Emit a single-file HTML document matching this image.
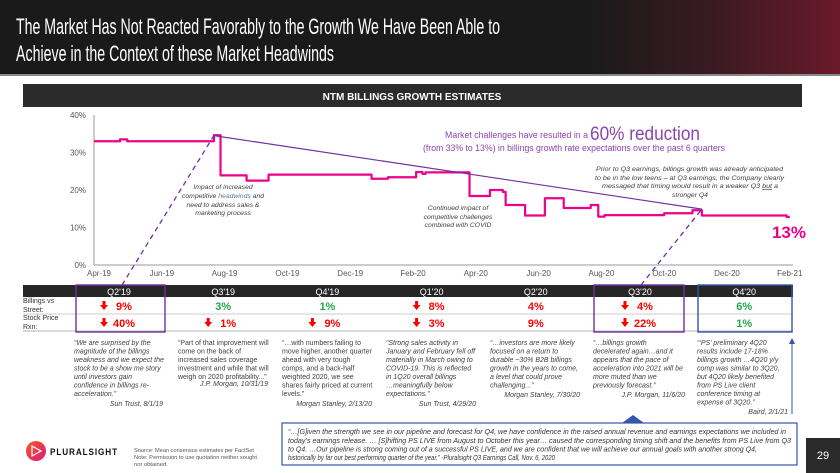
<!DOCTYPE html>
<html><head><meta charset="utf-8"><style>
html,body{margin:0;padding:0;background:#fff}
svg{display:block;font-family:"Liberation Sans",Arial,sans-serif}
</style></head><body>
<svg id="s" width="840" height="473" viewBox="0 0 840 473" xmlns="http://www.w3.org/2000/svg">
<defs>
<linearGradient id="tg" x1="0" x2="1" y1="0" y2="0"><stop offset="0" stop-color="#1a1a1a"/><stop offset="0.7" stop-color="#1a1a1a"/><stop offset="0.85" stop-color="#3a1a22"/><stop offset="1" stop-color="#6a1a2a"/></linearGradient>
<linearGradient id="lg" x1="0" x2="1" y1="0" y2="1"><stop offset="0" stop-color="#f15a24"/><stop offset="1" stop-color="#e0197d"/></linearGradient>
</defs>
<g>
<rect x="0" y="0" width="840" height="74" fill="url(#tg)"/>
<rect x="0" y="74" width="840" height="2" fill="#888"/>
<text x="16" y="34" fill="#fff" font-size="22" textLength="484" lengthAdjust="spacingAndGlyphs">The Market Has Not Reacted Favorably to the Growth We Have Been Able to</text>
<text x="16" y="61" fill="#fff" font-size="22" textLength="318" lengthAdjust="spacingAndGlyphs">Achieve in the Context of these Market Headwinds</text>
</g>
<g>
<rect x="23" y="84" width="779" height="23" fill="#2b2b2b"/>
<text x="412" y="100" fill="#fff" font-size="10" font-weight="bold" text-anchor="middle">NTM BILLINGS GROWTH ESTIMATES</text>
</g>
<g id="chart"></g>
<g font-style="italic" font-size="6.8" fill="#404040">
<text x="445" y="138" font-style="normal" font-size="9" fill="#8e44ad" textLength="143" lengthAdjust="spacingAndGlyphs">Market challenges have resulted in a</text>
<text x="590" y="140" font-style="normal" font-size="19" fill="#8e44ad" textLength="110" lengthAdjust="spacingAndGlyphs">60% reduction</text>
<text x="423" y="151" font-style="normal" font-size="9" fill="#8e44ad" textLength="302" lengthAdjust="spacingAndGlyphs">(from 33% to 13%) in billings growth rate expectations over the past 6 quarters</text>
<g text-anchor="middle">
<text x="223" y="189">Impact of increased</text>
<text x="223" y="198">competitive <tspan fill="#5a7a9a">headwinds</tspan> and</text>
<text x="223" y="207">need to address sales &amp;</text>
<text x="223" y="215">marketing process</text>
<text x="458" y="210">Continued impact of</text>
<text x="458" y="219">competitive challenges</text>
<text x="458" y="227">combined with COVID</text>
</g>
<text x="596" y="171" textLength="187" lengthAdjust="spacingAndGlyphs">Prior to Q3 earnings, billings growth was already anticipated</text>
<text x="595" y="180" textLength="189" lengthAdjust="spacingAndGlyphs">to be in the low teens – at Q3 earnings, the Company clearly</text>
<text x="602" y="188" textLength="176" lengthAdjust="spacingAndGlyphs">messaged that timing would result in a weaker Q3 <tspan text-decoration="underline">but</tspan> a</text>
<text x="690" y="197" text-anchor="middle">stronger Q4</text>
<text x="806" y="238" font-style="normal" font-weight="bold" font-size="17" fill="#ec008c" text-anchor="end">13%</text>
</g>
<g id="table">
<rect x="23" y="285" width="770" height="12" fill="#262626"/>
<line x1="23" y1="314" x2="793" y2="314" stroke="#bbb" stroke-width="0.8"/>
<line x1="23" y1="331" x2="793" y2="331" stroke="#999" stroke-width="0.8"/>
<text x="23" y="303" font-size="7" fill="#333">Billings vs</text>
<text x="23" y="312" font-size="7" fill="#333">Street:</text>
<text x="23" y="320" font-size="7" fill="#333">Stock Price</text>
<text x="23" y="329" font-size="7" fill="#333">Rxn:</text>
</g>
<g font-size="7" fill="#404040" font-style="italic">
<text x="74" y="345"><tspan x="74">“We are surprised by the</tspan><tspan x="74" dy="8.5">magnitude of the billings</tspan><tspan x="74" dy="8.5">weakness and we expect the</tspan><tspan x="74" dy="8.5">stock to be a show me story</tspan><tspan x="74" dy="8.5">until investors gain</tspan><tspan x="74" dy="8.5">confidence in billings re-</tspan><tspan x="74" dy="8.5">acceleration.”</tspan></text>
<text x="163" y="406" text-anchor="end">Sun Trust, 8/1/19</text>
<g font-style="normal"><text x="178" y="345"><tspan x="178">“Part of that improvement will</tspan><tspan x="178" dy="8.5">come on the back of</tspan><tspan x="178" dy="8.5">increased sales coverage</tspan><tspan x="178" dy="8.5">investment and while that will</tspan><tspan x="178" dy="8.5">weigh on 2020 profitability...”</tspan></text>
<text x="268" y="386" text-anchor="end" font-style="italic">J.P. Morgan, 10/31/19</text>
<text x="282" y="345"><tspan x="282">“…with numbers failing to</tspan><tspan x="282" dy="8.5">move higher, another quarter</tspan><tspan x="282" dy="8.5">ahead with very tough</tspan><tspan x="282" dy="8.5">comps, and a back-half</tspan><tspan x="282" dy="8.5">weighted 2020, we see</tspan><tspan x="282" dy="8.5">shares fairly priced at current</tspan><tspan x="282" dy="8.5">levels.”</tspan></text>
<text x="372" y="406" text-anchor="end" font-style="italic">Morgan Stanley, 2/13/20</text></g>
<text x="386" y="345"><tspan x="386">“Strong sales activity in</tspan><tspan x="386" dy="8.5">January and February fell off</tspan><tspan x="386" dy="8.5">materially in March owing to</tspan><tspan x="386" dy="8.5">COVID-19. This is reflected</tspan><tspan x="386" dy="8.5">in 1Q20 overall billings</tspan><tspan x="386" dy="8.5">…meaningfully below</tspan><tspan x="386" dy="8.5">expectations.”</tspan></text>
<text x="476" y="406" text-anchor="end">Sun Trust, 4/29/20</text>
<text x="490" y="345"><tspan x="490">“…investors are more likely</tspan><tspan x="490" dy="8.5">focused on a return to</tspan><tspan x="490" dy="8.5">durable ~30% B2B billings</tspan><tspan x="490" dy="8.5">growth in the years to come,</tspan><tspan x="490" dy="8.5">a level that could prove</tspan><tspan x="490" dy="8.5">challenging...”</tspan></text>
<text x="580" y="397" text-anchor="end">Morgan Stanley, 7/30/20</text>
<text x="593" y="345"><tspan x="593">“…billings growth</tspan><tspan x="593" dy="8.5">decelerated again…and it</tspan><tspan x="593" dy="8.5">appears that the pace of</tspan><tspan x="593" dy="8.5">acceleration into 2021 will be</tspan><tspan x="593" dy="8.5">more muted than we</tspan><tspan x="593" dy="8.5">previously forecast.”</tspan></text>
<text x="685" y="397" text-anchor="end">J.P. Morgan, 11/6/20</text>
<text x="697" y="345"><tspan x="697">“‘PS’ preliminary 4Q20</tspan><tspan x="697" dy="8.5">results include 17-18%</tspan><tspan x="697" dy="8.5">billings growth …4Q20 y/y</tspan><tspan x="697" dy="8.5">comp was similar to 3Q20,</tspan><tspan x="697" dy="8.5">but 4Q20 likely benefited</tspan><tspan x="697" dy="8.5">from PS Live client</tspan><tspan x="697" dy="8.5">conference timing at</tspan><tspan x="697" dy="8.5">expense of 3Q20.”</tspan></text>
<text x="788" y="414" text-anchor="end">Baird, 2/1/21</text>
</g>
<g>
<line x1="792" y1="414" x2="792" y2="342" stroke="#3355aa" stroke-width="1"/>
<polygon points="789,344 795,344 792,338" fill="#3355aa"/>
</g>
<g>
<polygon points="622,423 644,423 633,415" fill="#3355aa"/>
<rect x="282" y="423" width="515" height="42" fill="#fff" stroke="#3355aa" stroke-width="1.2"/>
<g font-size="7" font-style="italic" fill="#333">
<text x="288" y="434" textLength="498" lengthAdjust="spacingAndGlyphs">“…[G]iven the strength we see in our pipeline and forecast for Q4, we have confidence in the raised annual revenue and earnings expectations we included in</text>
<text x="288" y="443" textLength="503" lengthAdjust="spacingAndGlyphs">today’s earnings release. … [S]hifting PS LIVE from August to October this year… caused the corresponding timing shift and the benefits from PS Live from Q3</text>
<text x="288" y="451.5" textLength="469" lengthAdjust="spacingAndGlyphs">to Q4. …Our pipeline is strong coming out of a successful PS LIVE, and we are confident that we will achieve our annual goals with another strong Q4,</text>
<text x="288" y="460" textLength="267" lengthAdjust="spacingAndGlyphs">historically by far our best performing quarter of the year.”        -Pluralsight Q3 Earnings Call, Nov. 6, 2020</text>
</g>
</g>
<g>
<circle cx="36" cy="451" r="10" fill="url(#lg)"/>
<polygon points="32,446 32,456 41,451" fill="none" stroke="#fff" stroke-width="1.2"/>
<text x="50" y="455" font-size="9" font-weight="bold" fill="#111" letter-spacing="1" textLength="68" lengthAdjust="spacingAndGlyphs">PLURALSIGHT</text>
</g>
<g font-size="5.8" fill="#555">
<text x="134" y="452" textLength="120" lengthAdjust="spacingAndGlyphs">Source: Mean consensus estimates per FactSet</text>
<text x="134" y="459" textLength="123" lengthAdjust="spacingAndGlyphs">Note: Permission to use quotation neither sought</text>
<text x="134" y="466">nor obtained.</text>
</g>
<g>
<rect x="806" y="438" width="34" height="35" fill="#2b2b2b"/>
<text x="823" y="459" font-size="11" fill="#fff" text-anchor="middle">29</text>
</g>
</svg>
<script>
// chart data
var months = [0, 0.67, 0.9, 3.66, 3.87, 4.7, 5.4, 8.68, 9.2, 10.1, 10.3, 10.4, 11.8, 12.45, 12.86, 12.95, 13.57, 14.2, 14.8, 15.66, 15.9, 16.1, 18.0, 18.9, 19.2, 21.9, 22];
var billingsGrowth = [33.0, 33.5, 33.0, 34.6, 23.9, 22.5, 24.1, 23.0, 23.4, 24.8, 24.3, 24.7, 18.4, 20.0, 19.5, 16.0, 13.2, 17.8, 15.2, 16.0, 12.9, 13.3, 13.8, 14.6, 13.2, 12.8, 12.8];
var yTicks = [0, 10, 20, 30, 40];
var xTickLabels = ["Apr-19","Jun-19","Aug-19","Oct-19","Dec-19","Feb-20","Apr-20","Jun-20","Aug-20","Oct-20","Dec-20","Feb-21"];
var xTickMonths = [0,2,4,6,8,10,12,14,16,18,20,22];
var trendStart = [3.66, 34.5];
var trendEnd = [19.2, 14.9];
// table data
var quarters = ["Q2'19","Q3'19","Q4'19","Q1'20","Q2'20","Q3'20","Q4'20"];
var billingsVsStreet = ["9%","3%","1%","8%","4%","4%","6%"];
var billingsDown = [true,false,false,true,false,true,false];
var billingsColor = ["r","g","g","r","r","r","g"];
var stockRxn = ["40%","1%","9%","3%","9%","22%","1%"];
var stockDown = [true,true,true,true,false,true,false];
var stockColor = ["r","r","r","r","r","r","g"];

var NS="http://www.w3.org/2000/svg";
function x(m){return 99+m*31.4;}
function y(v){return 265-v*3.75;}
function mk(tag,attrs,parent,txt){var e=document.createElementNS(NS,tag);for(var k in attrs)e.setAttribute(k,attrs[k]);if(txt!=null)e.textContent=txt;parent.appendChild(e);return e;}
var g=document.getElementById('chart');
var ax=mk('line',{x1:94,y1:115,x2:94,y2:265,stroke:'#999','stroke-width':1},g);


var bx=mk('line',{x1:94,y1:265,x2:793,y2:265,stroke:'#999','stroke-width':1},g);


yTicks.forEach(function(t){
  var e=mk('text',{x:86,y:y(t)+3,'font-size':8,fill:'#555','text-anchor':'end'},g,t+'%');
  
  
});
xTickLabels.forEach(function(l,i){
  var e=mk('text',{x:x(xTickMonths[i]),y:276,'font-size':8,fill:'#555','text-anchor':'middle'},g,l);
  
  
});
var d='M'+(x(months[0])-5)+','+y(billingsGrowth[0]);
for(var i=0;i<months.length;i++){
  if(i>0)d+=' L'+x(months[i])+','+y(billingsGrowth[i-1]);
  d+=' L'+x(months[i])+','+y(billingsGrowth[i]);
}
var ln=mk('path',{d:d,fill:'none',stroke:'#ec008c','stroke-width':2.2,'stroke-linejoin':'round'},g);


var tr=mk('line',{x1:x(trendStart[0]),y1:y(trendStart[1]),x2:x(trendEnd[0]),y2:y(trendEnd[1]),stroke:'#7030a0','stroke-width':1.2},g);


var d1=mk('line',{x1:122,y1:285,x2:x(trendStart[0]),y2:y(trendStart[1]),stroke:'#7030a0','stroke-width':1.3,'stroke-dasharray':'5,4'},g);


var d2=mk('line',{x1:641,y1:285,x2:x(trendEnd[0]),y2:y(trendEnd[1]),stroke:'#7030a0','stroke-width':1.3,'stroke-dasharray':'5,4'},g);



var tb=document.getElementById('table');
function col(i){return 119+i*104.2;}
function cell(val,down,c,cy,i){
  var colr=c==='r'?'#ff0000':'#22a84a';
  var t=mk('text',{x:col(i)+(down?5:0),y:cy,'font-size':11,'font-weight':'bold',fill:colr,'text-anchor':'middle'},tb,val);
  
  
  if(down){
    var ax0=col(i)-15, ay=cy-9;
    var a=mk('polygon',{points:(ax0-1.5)+','+ay+' '+(ax0+1.5)+','+ay+' '+(ax0+1.5)+','+(ay+4)+' '+(ax0+4)+','+(ay+4)+' '+ax0+','+(ay+9)+' '+(ax0-4)+','+(ay+4)+' '+(ax0-1.5)+','+(ay+4),fill:'#ff0000'},tb);
    
    
  }
}
quarters.forEach(function(q,i){
  var h=mk('text',{x:col(i),y:295,'font-size':9,fill:'#fff','text-anchor':'middle'},tb,q);
  
  
  cell(billingsVsStreet[i],billingsDown[i],billingsColor[i],310,i);
  cell(stockRxn[i],stockDown[i],stockColor[i],327,i);
});
var b1=mk('rect',{x:76,y:285,width:89,height:47,fill:'none',stroke:'#7030a0','stroke-width':1.4},tb);


var b2=mk('rect',{x:594,y:285,width:90,height:47,fill:'none',stroke:'#7030a0','stroke-width':1.4},tb);


var b3=mk('rect',{x:698,y:285,width:94,height:47,fill:'none',stroke:'#3355aa','stroke-width':1.4},tb);


</script>
</body></html>
